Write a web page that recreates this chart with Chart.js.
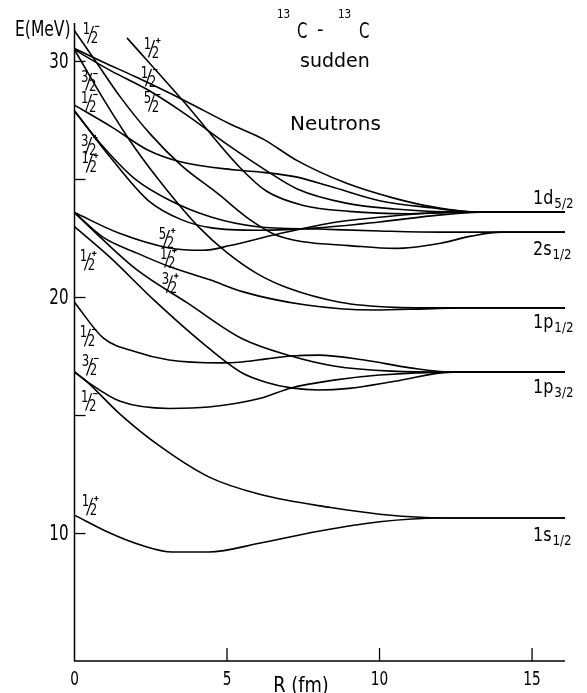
<!DOCTYPE html>
<html>
<head>
<meta charset="utf-8">
<script src="https://cdn.jsdelivr.net/npm/chart.js@4/dist/chart.umd.min.js"></script>
<style>
  html, body { margin: 0; padding: 0; background: #fff; }
  canvas { display: block; }
</style>
</head>
<body>
<canvas id="levels" width="587" height="693"></canvas>
<script>
// -----------------------
// AXES
// -----------------------
const R_MIN = 0, R_MAX = 16.08;
const E_MIN = 4.6, E_MAX = 31.63;
const yTickValues = [10, 15, 20, 25, 30];
const yLabelValues = [10, 20, 30];
const xTickValues = [5, 10, 15];
const xLabelValues = [0, 5, 10, 15];

// -----------------------
// LEVELS  [R (fm), E (MeV)]
// -----------------------
const s_g = [[0,10.78],[1.16,10.02],[2.2,9.5],[3.2,9.22],[4.4,9.22],[6.1,9.6],[8,10.1],[10,10.5],[12,10.66],[16.08,10.66]];
const s_u = [[0,16.85],[0.35,16.5],[1.5,15.05],[2.8,13.7],[4.4,12.4],[6.1,11.65],[8.4,11.1],[10,10.82],[11.5,10.68],[12.5,10.66],[16.08,10.66]];

const p32_a = [[0,16.85],[0.4,16.45],[1.5,15.6],[3.1,15.3],[4.4,15.36],[6.1,15.73],[7.1,16.17],[8.5,16.5],[10,16.72],[12.4,16.84],[16.08,16.84]];
const p32_b = [[0,19.8],[0.93,18.3],[2,17.7],[3.1,17.35],[4.8,17.23],[5.5,17.27],[6.3,17.4],[7.1,17.52],[8,17.56],[9.5,17.35],[11,17.02],[12.4,16.84],[16.08,16.84]];
const p32_c = [[0,23.6],[0.93,22.45],[2.05,21.17],[3.7,19.77],[5.5,18.25],[7.1,17.52],[8.5,17.1],[10.4,16.88],[12.4,16.84],[16.08,16.84]];
const p32_d = [[0,23.0],[1.15,21.72],[2.6,19.9],[4.2,18.07],[5.5,16.8],[6.3,16.4],[7.1,16.17],[8,16.08],[9,16.15],[10.5,16.45],[12.4,16.84],[16.08,16.84]];

const p12_a = [[0,23.6],[0.93,22.56],[2.05,21.88],[3.13,21.3],[4.44,20.75],[5.5,20.25],[7.6,19.68],[9.8,19.47],[11.5,19.52],[12.6,19.56],[16.08,19.56]];
const p12_b = [[0,30.5],[1,28.3],[2,26.3],[3,24.6],[4.1,22.95],[5,21.9],[6,21.0],[7,20.4],[8.7,19.8],[10.5,19.58],[11.5,19.56],[16.08,19.56]];

const s2_a = [[0,31.3],[0.7,30.0],[1.5,28.5],[2.5,26.9],[3.5,25.6],[4.7,24.4],[5.75,23.3],[6.6,22.65],[7.5,22.36],[9,22.2],[10.5,22.08],[12,22.3],[13,22.6],[14,22.77],[16.08,22.77]];
const s2_b = [[0,27.9],[1,26.3],[2,25.0],[3.1,24.13],[4.5,23.4],[6,23.0],[8,22.9],[10,22.82],[12,22.77],[16.08,22.77]];

const d52_a = [[0,30.55],[0.93,29.98],[2,29.35],[3.6,28.35],[5.1,27.35],[6.2,26.7],[7.3,25.8],[8.9,24.85],[10.5,24.2],[11.7,23.85],[13.2,23.62],[16.08,23.62]];
const d52_b = [[0,30.5],[1.2,29.6],[2.4,28.8],[3.6,27.8],[5.1,26.4],[6.2,25.45],[7.3,24.6],[8.9,24.0],[10.5,23.75],[12.5,23.62],[16.08,23.62]];
const d52_c = [[1.72,31.0],[3.62,28.24],[5.43,25.5],[6.3,24.5],[7.5,23.9],[9,23.65],[11,23.55],[13,23.62],[16.08,23.62]];
const d52_d = [[0,28.15],[1.25,27.2],[2.4,26.25],[3.5,25.74],[5.3,25.4],[6.2,25.3],[7.3,25.1],[8.4,24.7],[10,24.1],[11.7,23.8],[13.2,23.62],[16.08,23.62]];
const d52_e = [[0,27.9],[1.2,25.9],[2.4,24.13],[3.5,23.3],[4.5,22.95],[6,22.85],[8,22.95],[10,23.2],[12,23.5],[13.5,23.62],[16.08,23.62]];
const d52_f = [[0,23.6],[1.45,22.73],[3.1,22.1],[4.2,22.0],[5.1,22.2],[6.7,22.7],[8.4,23.16],[10,23.4],[11.7,23.58],[13.2,23.62],[16.08,23.62]];

const allLevels = [s_g, s_u, p32_a, p32_b, p32_c, p32_d, p12_a, p12_b,
                   s2_a, s2_b, d52_a, d52_b, d52_c, d52_d, d52_e, d52_f];

// state labels: numerator, denominator, parity, R, E
const stateLabels = [
  ['1','2','-', 0.54, 31.17],
  ['1','2','+', 2.54, 30.57],
  ['3','2','-', 0.48, 29.17],
  ['1','2','-', 2.44, 29.34],
  ['5','2','-', 2.54, 28.28],
  ['1','2','-', 0.48, 28.28],
  ['3','2','+', 0.48, 26.46],
  ['1','2','+', 0.50, 25.70],
  ['5','2','+', 3.03, 22.52],
  ['1','2','+', 3.07, 21.67],
  ['3','2','+', 3.13, 20.60],
  ['1','2','+', 0.44, 21.55],
  ['1','2','-', 0.44, 18.33],
  ['3','2','-', 0.51, 17.10],
  ['1','2','-', 0.48, 15.61],
  ['1','2','+', 0.51, 11.17]
];

// asymptotic levels: name, subscript, E, baseline shift (px)
const levelNames = [
  ['1d', '5/2', 23.62, -8],
  ['2s', '1/2', 22.77, 23],
  ['1p', '1/2', 19.56, 20],
  ['1p', '3/2', 16.84, 21],
  ['1s', '1/2', 10.66, 23]
];

// -----------------------
// TEXT HELPERS
// -----------------------
const FONT = '"DejaVu Sans", sans-serif';

function drawText(ctx, str, x, y, size, sx, align){
    ctx.save();
    ctx.translate(x, y);
    ctx.scale(sx, 1);
    ctx.font = size + 'px ' + FONT;
    ctx.textAlign = align || 'left';
    ctx.fillText(str, 0, 0);
    ctx.restore();
}

function textWidth(ctx, str, size, sx){
    ctx.save();
    ctx.font = size + 'px ' + FONT;
    const w = ctx.measureText(str).width * sx;
    ctx.restore();
    return w;
}

function drawFraction(ctx, cx, cy, num, den, sign){
    drawText(ctx, num, cx - 4.5, cy + 0.5, 15, 0.78, 'center');
    drawText(ctx, den, cx + 3.5, cy + 9.5, 15, 0.78, 'center');
    ctx.lineWidth = 1.2;
    ctx.beginPath();
    ctx.moveTo(cx - 3.5, cy + 9.5);
    ctx.lineTo(cx + 2.5, cy - 8);
    ctx.stroke();
    ctx.lineWidth = 1.1;
    ctx.beginPath();
    ctx.moveTo(cx + 4, cy - 7.5);
    ctx.lineTo(cx + 8.5, cy - 7.5);
    if(sign === '+'){
        ctx.moveTo(cx + 6.25, cy - 10);
        ctx.lineTo(cx + 6.25, cy - 5);
    }
    ctx.stroke();
}

// -----------------------
// AXES + TEXT PLUGIN
// -----------------------
const decorations = {
    id: 'decorations',
    afterDraw(chart){
        const ctx = chart.ctx;
        const x = chart.scales.x, y = chart.scales.y;
        const x0 = x.getPixelForValue(0);
        const yb = y.getPixelForValue(E_MIN);

        ctx.save();
        ctx.strokeStyle = '#000';
        ctx.fillStyle = '#000';
        ctx.lineWidth = 1.5;
        ctx.beginPath();
        ctx.moveTo(x0, y.getPixelForValue(E_MAX));
        ctx.lineTo(x0, yb);
        ctx.lineTo(x.getPixelForValue(R_MAX), yb);
        ctx.stroke();

        ctx.lineWidth = 1.3;
        yTickValues.forEach(v => {
            const py = y.getPixelForValue(v);
            ctx.beginPath(); ctx.moveTo(x0, py); ctx.lineTo(x0 + 11, py); ctx.stroke();
        });
        xTickValues.forEach(v => {
            const px = x.getPixelForValue(v);
            ctx.beginPath(); ctx.moveTo(px, yb); ctx.lineTo(px, yb - 13); ctx.stroke();
        });

        ctx.textBaseline = 'middle';
        yLabelValues.forEach(v => {
            drawText(ctx, String(v), x0 - 6, y.getPixelForValue(v) + 1, 21, 0.72, 'right');
        });
        xLabelValues.forEach(v => {
            drawText(ctx, String(v), x.getPixelForValue(v), yb + 19, 19, 0.72, 'center');
        });

        ctx.textBaseline = 'alphabetic';
        drawText(ctx, 'E(MeV)', 15, 36, 21, 0.74, 'left');
        drawText(ctx, 'R (fm)', 301, 692, 21, 0.85, 'center');

        // title
        drawText(ctx, '13', 277, 18, 13, 0.8, 'left');
        drawText(ctx, 'C', 297, 38, 22, 0.68, 'left');
        drawText(ctx, '-', 317, 36, 20, 0.9, 'left');
        drawText(ctx, '13', 338, 18, 13, 0.8, 'left');
        drawText(ctx, 'C', 359, 38, 22, 0.68, 'left');
        drawText(ctx, 'sudden', 300, 67, 19, 1.0, 'left');
        drawText(ctx, 'Neutrons', 290, 130, 20, 1.0, 'left');

        stateLabels.forEach(([n, d, s, r, e]) => {
            drawFraction(ctx, x.getPixelForValue(r), y.getPixelForValue(e), n, d, s);
        });

        levelNames.forEach(([main, sub, e, dy]) => {
            const base = y.getPixelForValue(e) + dy;
            drawText(ctx, main, 533, base, 20, 0.8, 'left');
            const w = textWidth(ctx, main, 20, 0.8);
            drawText(ctx, sub, 533 + w + 1, base + 4, 14, 0.85, 'left');
        });
        ctx.restore();
    }
};

// -----------------------
// CHART
// -----------------------
const datasets = allLevels.map(level => ({
    data: level.map(([r, e]) => ({ x: r, y: e })),
    borderColor: '#000',
    borderWidth: 1.6,
    pointRadius: 0,
    fill: false,
    cubicInterpolationMode: 'monotone'
}));

new Chart(document.getElementById('levels'), {
    type: 'line',
    data: { datasets },
    options: {
        responsive: false,
        animation: false,
        layout: { padding: { left: 74.5, right: 22, top: 23, bottom: 32 } },
        plugins: { legend: { display: false }, tooltip: { enabled: false } },
        scales: {
            x: { type: 'linear', min: R_MIN, max: R_MAX, display: false },
            y: { type: 'linear', min: E_MIN, max: E_MAX, display: false }
        }
    },
    plugins: [decorations]
});
</script>
</body>
</html>
